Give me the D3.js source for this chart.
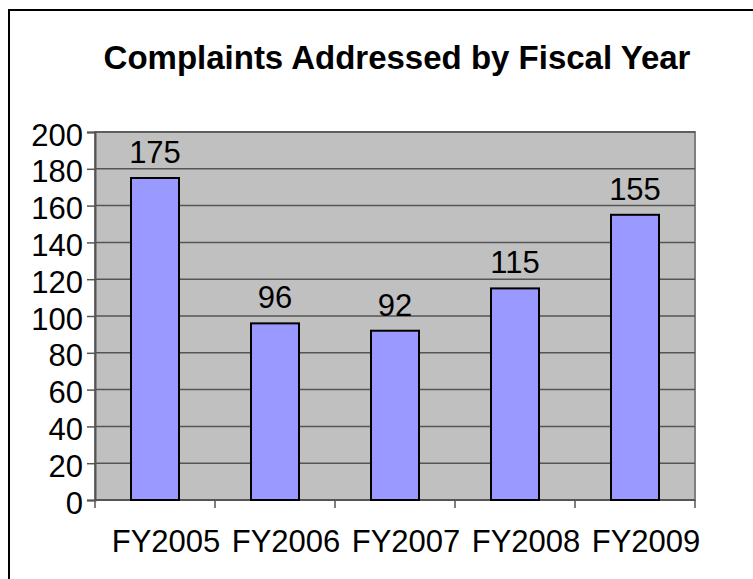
<!DOCTYPE html>
<html>
<head>
<meta charset="utf-8">
<script src="https://cdn.jsdelivr.net/npm/d3@7"></script>
<style>
  html, body { margin: 0; padding: 0; background: #fff; overflow: hidden; }
  svg { display: block; font-family: "Liberation Sans", Arial, sans-serif; }
</style>
</head>
<body>
<svg id="chart" width="753" height="579"></svg>
<script>
const title = "Complaints Addressed by Fiscal Year";
const categories = ["FY2005", "FY2006", "FY2007", "FY2008", "FY2009"];
const values = [175, 96, 92, 115, 155];
const yTicks = [0, 20, 40, 60, 80, 100, 120, 140, 160, 180, 200];

const svg = d3.select("#chart");
const W = 753, H = 579;
const plot = { left: 95, right: 695, top: 132, bottom: 500 };

// outer frame (right and bottom edges lie outside the view)
svg.append("rect")
  .attr("x", 9).attr("y", 10)
  .attr("width", W + 20).attr("height", H + 20)
  .attr("fill", "#fff").attr("stroke", "#000").attr("stroke-width", 2);

// title
svg.append("text")
  .attr("x", 397).attr("y", 69)
  .attr("text-anchor", "middle")
  .attr("font-size", 33).attr("font-weight", "bold")
  .attr("fill", "#000")
  .text(title);

const x = d3.scaleBand().domain(categories)
  .range([plot.left, plot.right])
  .paddingInner(0.6).paddingOuter(0.3);
const step = x.step();
const y = d3.scaleLinear().domain([0, 200]).range([plot.bottom, plot.top]);

// plot background
svg.append("rect")
  .attr("x", plot.left).attr("y", plot.top)
  .attr("width", plot.right - plot.left).attr("height", plot.bottom - plot.top)
  .attr("fill", "#c0c0c0").attr("stroke", "#808080").attr("stroke-width", 2);

// gridlines
svg.append("g").selectAll("line").data(yTicks.filter(d => d > 0))
  .join("line")
  .attr("x1", plot.left).attr("x2", plot.right)
  .attr("y1", d => y(d)).attr("y2", d => y(d))
  .attr("stroke", "#555").attr("stroke-width", 1.5);

// y axis
const yAxis = d3.axisLeft(y).tickValues(yTicks).tickSize(8).tickPadding(4).tickFormat(d3.format("d"));
const gy = svg.append("g").attr("transform", `translate(${plot.left},0)`).call(yAxis);
gy.select(".domain").attr("stroke", "#555").attr("stroke-width", 2);
gy.selectAll(".tick line").attr("stroke", "#555").attr("stroke-width", 1.5);
gy.selectAll(".tick text")
  .attr("font-size", 31).attr("fill", "#000")
  .attr("font-family", "Liberation Sans, Arial, sans-serif")
  .attr("dy", "0.42em");

// x axis line and ticks at band boundaries
const boundaries = categories.map(c => x(c) - x.paddingOuter() * step).concat([plot.right]);
svg.append("line")
  .attr("x1", plot.left).attr("x2", plot.right)
  .attr("y1", plot.bottom).attr("y2", plot.bottom)
  .attr("stroke", "#555").attr("stroke-width", 2);
svg.append("g").selectAll("line").data(boundaries)
  .join("line")
  .attr("x1", d => d).attr("x2", d => d)
  .attr("y1", plot.bottom).attr("y2", plot.bottom + 8)
  .attr("stroke", "#555").attr("stroke-width", 1.5);

// x labels
svg.append("g").selectAll("text").data(categories)
  .join("text")
  .attr("x", d => x(d) + x.bandwidth() / 2 + 11)
  .attr("y", 552)
  .attr("text-anchor", "middle")
  .attr("font-size", 31).attr("fill", "#000")
  .text(d => d);

// bars
svg.append("g").selectAll("rect").data(values)
  .join("rect")
  .attr("x", (d, i) => x(categories[i]))
  .attr("y", d => y(d))
  .attr("width", x.bandwidth())
  .attr("height", d => y(0) - y(d))
  .attr("fill", "#9999ff").attr("stroke", "#000").attr("stroke-width", 2);

// data labels
svg.append("g").selectAll("text").data(values)
  .join("text")
  .attr("x", (d, i) => x(categories[i]) + x.bandwidth() / 2)
  .attr("y", d => y(d) - 15)
  .attr("text-anchor", "middle")
  .attr("font-size", 31).attr("fill", "#000")
  .text(d => d);
</script>
</body>
</html>
